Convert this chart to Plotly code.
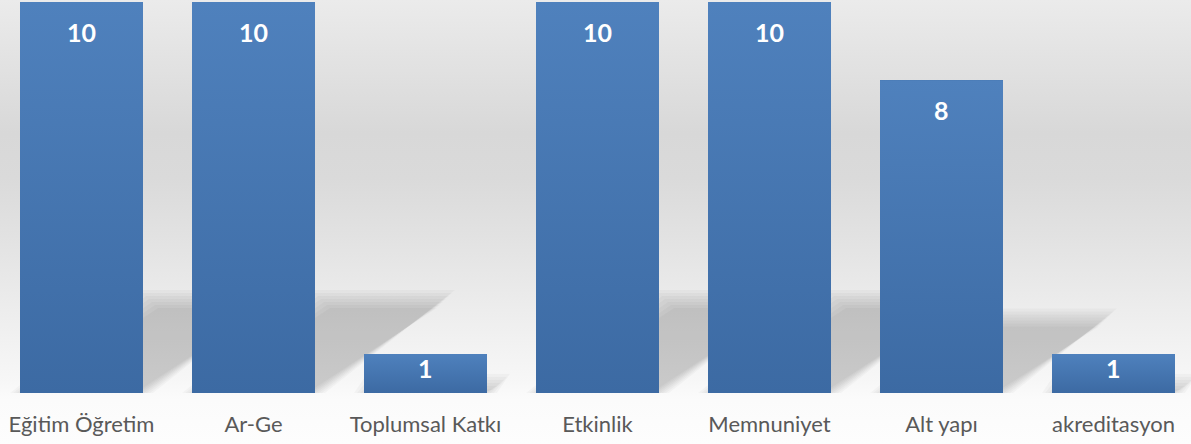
import base64
import plotly.graph_objects as go

categories = ["Eğitim Öğretim", "Ar-Ge", "Toplumsal Katkı", "Etkinlik",
              "Memnuniyet", "Alt yapı", "akreditasyon"]
values = [10, 10, 1, 10, 10, 8, 1]

W, H = 1191, 444
MT, MB = 0, 51
X0, X1 = -0.4738, 6.4506
YMAX = 10.05
BAR_W = 0.715
px_x = W / (X1 - X0)            # pixels per category unit
px_y = (H - MT - MB) / YMAX     # pixels per value unit


def svg_uri(stops):
    body = "".join(f'<stop offset="{o}" stop-color="{c}"/>' for o, c in stops)
    svg = ('<svg xmlns="http://www.w3.org/2000/svg" width="10" height="100" '
           'preserveAspectRatio="none"><defs><linearGradient id="g" x1="0" y1="0" '
           f'x2="0" y2="1">{body}</linearGradient></defs>'
           '<rect width="10" height="100" fill="url(#g)"/></svg>')
    return "data:image/svg+xml;base64," + base64.b64encode(svg.encode()).decode()


bg_src = svg_uri([(0, "#EBEBEB"), (0.30, "#D8D8D8"), (0.40, "#DADADA"),
                  (0.55, "#E3E3E3"), (0.70, "#EDEDED"), (0.86, "#F7F7F7"),
                  (0.90, "#FBFBFB"), (1, "#FDFDFD")])
bar_src = svg_uri([(0, "#4F81BD"), (1, "#3C6AA3")])

fig = go.Figure()
fig.add_trace(go.Bar(
    x=categories, y=values, width=BAR_W,
    marker=dict(color="#4677B1", line=dict(width=0)),
    hoverinfo="skip",
))

# soft perspective shadows, built from the data values
shapes = []
for i, v in enumerate(values):
    hy = 0.238 * v
    s = 0.0756 * v
    for e in [10, 7, 4, 1, -2, -5, -8]:
        ex = e / px_x
        ey = e / px_y
        xl = i - BAR_W / 2 - ex
        xr = i + BAR_W / 2 + ex
        top = max(hy + ey, 0.01)
        path = (f"M {xl},0 L {xr},0 L {xr + s},{top} L {xl + s},{top} Z")
        shapes.append(dict(type="path", path=path, xref="x", yref="y",
                           fillcolor="rgba(0,0,0,0.027)", line=dict(width=0),
                           layer="below"))

# gradient fill overlay for each bar (placed on the data axes)
images = [dict(source=bg_src, xref="paper", yref="paper", x=0, y=1,
               sizex=1, sizey=H / (H - MT - MB), sizing="stretch",
               xanchor="left", yanchor="top", layer="below")]
for i, v in enumerate(values):
    images.append(dict(source=bar_src, xref="x", yref="y",
                       x=i - BAR_W / 2, y=v, sizex=BAR_W, sizey=v,
                       sizing="stretch", xanchor="left", yanchor="top",
                       layer="above"))

annotations = []
for c, v in zip(categories, values):
    annotations.append(dict(
        x=c, y=v, xref="x", yref="y", text=f"<b>{v}</b>", showarrow=False,
        yanchor="middle", yshift=-30 if v * px_y > 60 else -14,
        font=dict(family="Lato, 'Open Sans', sans-serif", size=25, color="white"),
    ))

fig.update_layout(
    width=W, height=H,
    margin=dict(l=0, r=0, t=MT, b=MB, pad=0),
    paper_bgcolor="#FCFCFC",
    plot_bgcolor="rgba(0,0,0,0)",
    showlegend=False,
    bargap=0,
    shapes=shapes,
    annotations=annotations,
    images=images,
    xaxis=dict(type="category", range=[X0, X1], showgrid=False, zeroline=False,
               showline=False, ticks="", ticklabelstandoff=16, fixedrange=True,
               tickfont=dict(family="Lato, 'Open Sans', sans-serif", size=22, color="#595959")),
    yaxis=dict(range=[0, YMAX], showgrid=False, zeroline=False, showline=False,
               showticklabels=False, ticks="", fixedrange=True),
)

fig.write_html("out.html", config={"displayModeBar": False},
               post_script="document.body.style.margin='0';document.body.style.overflow='hidden';")
